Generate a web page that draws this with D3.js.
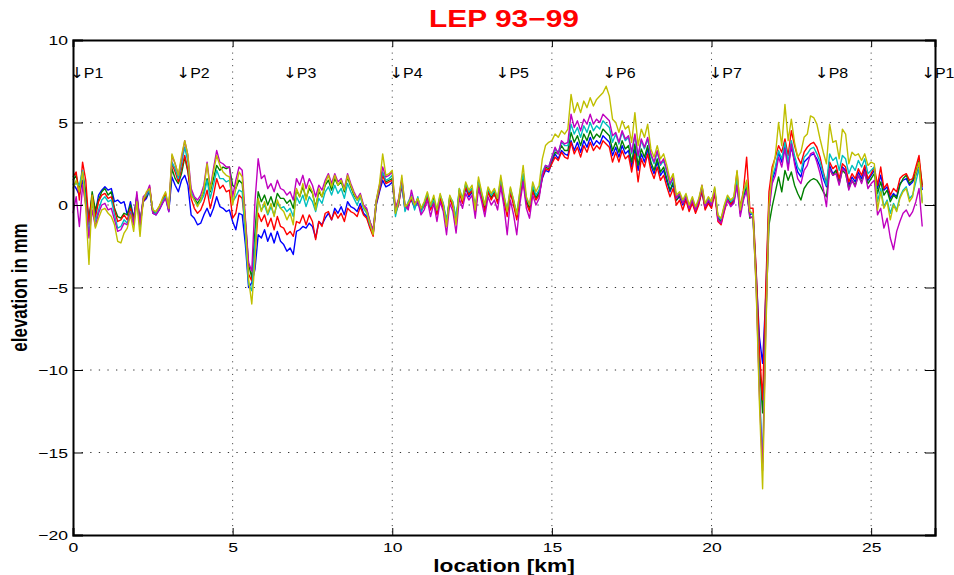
<!DOCTYPE html>
<html><head><meta charset="utf-8">
<script src="https://cdn.jsdelivr.net/npm/d3@7"></script>
<style>body{margin:0;background:#fff}svg{display:block}text{font-family:"Liberation Sans",Arial,Helvetica,sans-serif}</style>
</head><body><svg id="chart" width="954" height="575"></svg>
<script>
// sample grid: one reading every 0.1 km from 0 to 26.6 km
const sampleStart = 0, sampleStep = 0.1, sampleCount = 267;
const locationKm = d3.range(sampleCount).map(i => +(sampleStart + i * sampleStep).toFixed(1));

const elevBlue = [
1.3,1.0,0.6,1.5,0.4,-0.8,0.5,-0.5,0.6,0.9,
1.1,0.9,1.0,0.2,0.3,0.1,0.2,-0.6,0.2,-0.8,
0.5,-1.0,0.2,0.4,0.9,-0.5,-0.6,-0.3,0.1,0.5,
-0.4,1.7,1.2,0.8,1.5,1.8,1.2,-0.6,-0.8,-1.2,
-1.1,-0.6,-0.2,-0.7,-0.2,0.5,-0.1,-0.2,-0.4,-0.3,
-1.0,-1.5,-0.5,-0.6,-2.4,-5.0,-4.7,-3.9,-1.8,-2.0,
-1.5,-2.2,-1.7,-2.3,-1.6,-2.2,-2.4,-2.8,-2.6,-3.0,
-1.6,-1.5,-1.3,-1.4,-1.1,-1.3,-2.0,-1.0,-1.2,-0.8,
-0.5,-0.9,-0.2,-0.5,-0.1,-0.6,0.2,-0.1,-0.2,-0.4,
0.1,-0.5,-0.7,-1.3,-1.8,0.0,0.8,1.5,1.1,1.2,
1.4,-0.4,
0.1,1.2,-0.3,0.1,0.3,-0.2,0.2,-0.4,
0.1,0.4,-0.1,0.2,-0.4,0.5,0.0,-1.0,0.3,0.1,
-0.9,0.7,0.3,1.0,0.5,0.8,-0.3,1.2,0.6,-0.1,
0.7,0.5,0.6,0.3,1.3,0.4,-0.4,0.7,0.2,-0.6,
0.5,1.6,0.3,-0.2,0.9,0.5,0.6,1.6,2.1,2.0,
2.6,3.1,2.8,3.3,3.1,3.0,3.9,3.3,3.8,3.2,
3.9,3.5,4.1,3.6,3.9,3.7,4.2,4.0,3.8,3.0,
3.5,2.9,3.6,3.1,3.3,2.3,3.4,2.1,3.1,2.6,
3.4,2.4,1.9,2.6,1.8,2.1,1.4,0.8,1.3,0.3,
0.5,0.0,0.4,-0.3,0.2,-0.4,0.1,0.8,-0.2,0.2,
-0.1,0.8,-0.7,-0.9,-0.1,0.3,0.0,0.2,1.3,-0.5,
0.5,1.0,-0.6,-0.5,-4.2,-8.0,-9.6,-5.5,0.2,1.5,
2.1,3.2,2.6,3.6,2.4,3.5,2.7,2.0,1.7,2.6,
2.8,3.0,3.1,2.8,2.3,1.6,1.1,2.4,1.9,2.1,
1.4,2.3,2.1,1.2,1.7,1.4,2.0,1.6,2.2,1.5,
1.8,2.1,1.0,1.8,0.9,1.1,0.4,0.7,0.5,1.3,
1.5,1.6,1.2,1.4,1.8,2.5,0.9];

const elevGreen = [
1.5,1.8,0.9,2.0,0.8,-1.0,0.8,-0.3,0.3,0.8,
1.0,0.6,0.8,-0.2,-0.7,-0.8,-0.5,-0.6,0.0,-0.9,
0.6,-1.1,0.3,0.5,1.0,-0.4,-0.5,-0.2,0.2,0.6,
-0.3,2.2,1.6,1.3,1.9,2.9,2.0,0.6,0.4,0.1,
0.4,0.8,1.6,0.8,1.6,2.4,2.1,2.3,2.2,2.3,
1.2,1.0,1.5,1.3,-1.0,-3.6,-4.4,-1.6,0.8,0.2,
0.6,0.0,0.5,-0.1,0.7,0.4,0.4,0.1,0.3,-0.2,
0.9,0.5,1.1,0.4,1.0,0.7,-0.1,0.8,0.5,1.2,
1.5,0.9,1.6,1.2,1.4,0.8,1.7,1.1,0.6,0.3,
0.6,-0.1,-0.3,-1.0,-1.6,0.2,1.0,1.9,1.4,1.5,
1.6,-0.3,
0.3,1.5,-0.1,0.0,0.5,0.0,0.4,-0.2,
0.0,0.6,-0.2,0.4,-0.5,0.3,-0.1,-1.1,0.5,0.0,
-1.0,0.9,0.2,1.2,0.7,1.0,-0.4,1.4,0.5,-0.2,
0.9,0.4,0.8,0.2,1.5,0.3,-0.5,0.9,0.1,-0.7,
0.6,1.7,0.2,-0.2,1.0,0.4,0.8,1.8,2.3,2.2,
2.8,3.2,3.1,3.6,3.3,3.3,4.4,3.8,4.2,3.6,
4.3,3.9,4.5,4.0,4.3,4.1,4.6,4.4,4.2,3.3,
3.8,3.2,3.9,3.4,3.6,2.6,3.7,2.4,3.4,2.9,
3.6,2.6,2.1,2.8,2.0,2.3,1.6,0.9,1.4,0.3,
0.6,0.1,0.5,-0.2,0.3,-0.3,0.2,1.0,-0.1,0.3,
0.0,0.9,-0.8,-1.0,-0.2,0.4,0.1,0.3,1.4,-0.4,
0.6,1.1,-0.8,-0.7,-4.6,-9.5,-12.6,-6.8,-1.2,-0.1,
0.8,1.7,0.8,2.1,1.5,2.0,1.2,0.7,0.3,1.0,
1.3,1.5,1.6,1.5,1.2,0.8,0.5,2.2,1.8,2.1,
1.3,2.1,1.9,1.0,1.5,1.2,1.8,1.4,2.0,1.3,
1.6,1.9,0.7,1.4,0.6,0.9,0.2,0.6,0.4,1.2,
1.6,1.8,1.3,1.5,2.0,2.7,1.2];

const elevRed = [
1.7,2.0,0.3,2.6,1.5,-1.2,0.6,-0.8,0.2,0.6,
0.7,0.4,0.5,-0.3,-1.0,-0.9,-0.6,-0.9,-0.2,-1.0,
0.4,-1.3,0.2,0.6,1.1,-0.4,-0.4,-0.1,0.3,0.7,
-0.2,2.5,2.0,1.4,2.2,3.0,2.1,0.4,-0.2,-0.5,
-0.3,0.2,0.9,-0.2,0.6,1.6,1.0,1.2,0.8,0.9,
-0.8,-0.5,0.6,0.4,-1.5,-4.2,-4.6,-2.8,-0.5,-1.0,
-0.6,-1.3,-0.8,-1.5,-0.7,-1.3,-1.4,-1.8,-1.6,-1.9,
-1.0,-1.1,-0.6,-1.2,-0.6,-1.0,-2.1,-1.0,-1.3,-0.5,
-0.4,-0.9,-0.4,-0.8,-0.5,-1.0,-0.2,-0.4,-0.5,-0.7,
-0.1,-0.6,-0.8,-1.4,-1.9,0.1,0.9,1.8,1.3,1.4,
1.5,-0.5,
0.0,1.3,-0.2,-0.1,0.4,-0.1,0.3,-0.3,
-0.1,0.5,-0.3,0.2,-0.6,0.4,-0.2,-1.2,0.4,-0.1,
-1.1,0.8,0.1,1.1,0.6,0.9,-0.5,1.3,0.4,-0.4,
0.8,0.3,0.7,0.1,1.4,0.2,-0.7,0.8,0.0,-0.9,
0.4,1.5,0.1,-0.4,0.8,0.3,0.6,1.7,2.2,2.1,
2.5,2.9,2.7,3.2,2.9,2.8,3.8,3.1,3.5,2.9,
3.6,3.2,3.8,3.3,3.6,3.4,3.9,3.7,3.5,2.6,
3.2,2.6,3.3,2.8,3.0,2.0,3.1,1.4,2.8,2.3,
3.1,2.1,1.6,2.3,1.5,1.8,1.1,0.5,1.0,0.0,
0.3,-0.3,0.3,-0.4,0.1,-0.5,0.0,0.9,-0.3,0.1,
-0.2,0.7,-1.0,-1.2,-0.4,0.3,0.0,0.4,2.0,-0.2,
0.9,2.9,-0.2,-0.2,-4.0,-8.8,-11.8,-5.0,0.8,2.3,
2.9,3.6,3.2,4.0,3.0,4.5,3.6,2.9,2.5,3.2,
3.5,3.7,3.8,3.5,2.9,2.0,1.3,2.6,2.2,2.4,
1.6,2.5,2.3,1.4,1.9,1.6,2.2,1.8,2.4,1.6,
1.9,2.3,1.2,2.3,1.0,1.3,0.6,1.0,0.8,1.6,
1.8,1.9,1.5,1.6,2.3,3.0,1.1];

const elevCyan = [
1.2,1.3,1.2,2.1,0.2,-1.8,0.2,-1.0,-0.3,0.3,
0.5,0.2,0.3,-0.6,-1.4,-1.3,-0.9,-1.1,-0.4,-1.2,
0.3,-1.4,0.4,0.6,0.9,-0.3,-0.5,-0.2,0.2,0.5,
-0.3,2.6,2.2,1.6,2.5,3.5,2.6,0.8,0.3,0.0,
0.2,0.6,1.5,0.4,1.2,2.1,1.6,1.6,1.4,1.5,
0.2,0.5,0.9,0.8,-1.8,-4.8,-5.2,-2.4,0.3,-0.3,
0.0,-0.6,-0.1,-0.6,0.1,-0.2,-0.1,-0.4,-0.2,-0.7,
0.5,0.1,0.6,-0.1,0.5,0.2,-0.4,0.4,0.1,0.8,
1.1,0.6,1.2,0.7,1.0,0.4,1.3,0.8,0.4,0.0,
0.5,-0.2,-0.5,-1.2,-1.7,0.2,1.1,2.0,1.5,1.6,
1.8,-0.7,
0.2,1.4,-0.4,0.2,0.6,-0.3,0.5,-0.5,
0.1,0.7,-0.1,0.3,-0.3,0.6,0.1,-1.0,0.5,0.2,
-0.8,1.0,0.4,1.3,0.8,1.0,-0.2,1.5,0.7,0.0,
1.0,0.6,0.9,0.4,1.6,0.5,-0.3,1.0,0.3,-0.5,
0.8,1.9,0.4,0.0,1.2,0.6,0.9,2.0,2.4,2.3,
2.9,3.4,3.2,3.8,3.6,3.6,4.9,4.3,4.7,4.1,
4.8,4.4,5.0,4.5,4.8,4.6,5.1,4.9,4.7,3.8,
4.3,3.7,4.4,3.9,4.1,3.1,4.2,2.9,3.9,3.4,
4.0,3.0,2.5,3.2,2.4,2.7,2.0,1.2,1.6,0.5,
0.7,0.2,0.6,-0.1,0.4,-0.2,0.3,1.1,0.0,0.4,
0.1,1.0,-0.7,-0.9,-0.1,0.5,0.2,0.4,1.6,-0.3,
0.7,1.4,-0.4,-0.6,-4.8,-11.0,-15.6,-7.0,-0.3,1.7,
2.3,3.3,2.8,3.8,2.6,3.9,3.0,2.3,2.0,2.9,
3.1,3.4,3.5,3.1,2.6,1.9,1.2,3.1,2.7,2.9,
2.1,3.0,2.8,1.9,2.4,2.1,2.7,2.3,2.8,1.9,
2.1,2.3,0.2,1.0,-0.1,0.3,-0.5,0.1,-0.3,0.5,
0.9,1.1,0.4,0.6,1.4,2.2,0.2];

const elevMagenta = [
-0.5,0.5,-1.3,1.2,0.0,-2.0,-0.3,-1.3,-0.5,0.0,
0.1,-0.3,-0.2,-0.9,-1.6,-1.5,-1.1,-1.2,-0.5,-1.2,
0.8,-1.2,0.5,0.7,1.2,-0.5,-0.6,-0.3,0.1,0.4,
-0.4,3.0,2.5,1.8,2.8,3.9,3.0,1.0,0.5,0.3,
0.6,1.2,2.6,1.0,2.2,3.3,2.6,2.5,2.3,2.3,
0.5,1.5,2.3,2.1,-0.8,-3.5,-4.0,0.2,2.8,1.6,
1.8,1.0,1.3,0.8,1.5,1.0,0.9,0.6,0.8,0.3,
1.6,1.2,1.8,1.0,1.6,1.2,0.5,1.2,0.9,1.5,
1.9,1.3,1.9,1.4,1.6,1.0,1.9,1.3,0.8,0.4,
0.7,0.0,-0.2,-1.0,-1.5,0.3,1.2,2.3,1.7,1.8,
2.0,-0.2,
0.4,1.6,0.0,-0.3,0.9,0.1,0.2,-0.6,
-0.3,0.3,-0.7,0.1,-1.0,0.2,-0.4,-1.8,0.1,-0.4,
-1.7,0.4,-0.2,0.7,0.3,0.6,-0.8,1.0,0.2,-0.7,
0.5,0.0,0.3,-0.3,1.1,-0.1,-1.8,0.3,-0.6,-1.8,
0.1,1.4,-0.2,-0.8,0.6,0.0,0.4,1.8,2.4,2.3,
2.9,3.5,3.1,3.9,3.7,3.8,5.5,4.7,5.1,4.5,
5.2,4.9,5.5,4.9,5.2,5.0,5.5,5.3,5.1,4.2,
4.4,3.8,4.5,4.0,4.2,3.2,4.3,3.0,4.0,3.5,
4.1,3.1,2.6,3.3,2.5,2.8,2.1,1.3,1.7,0.4,
0.7,0.1,0.5,-0.2,0.3,-0.3,0.2,1.2,-0.1,0.3,
0.0,0.9,-0.9,-1.1,-0.3,0.3,-0.1,0.1,1.2,-0.7,
0.3,0.9,-0.7,-0.8,-5.0,-11.5,-16.1,-7.5,-0.4,1.3,
1.8,2.9,2.3,3.4,2.1,3.7,2.5,1.6,1.3,2.1,
2.4,3.1,3.2,2.6,1.9,1.0,-0.1,2.2,1.8,1.9,
1.2,2.2,2.0,0.9,1.5,1.1,1.8,1.3,2.0,1.0,
1.3,1.5,-0.6,-0.2,-1.4,-0.8,-2.0,-2.7,-1.6,-1.0,
-0.5,-0.3,-0.7,-0.4,0.2,1.0,-1.3];

const elevYellow = [
1.0,1.5,0.8,2.0,-0.2,-3.6,0.6,-1.4,-0.8,-0.3,
-0.2,-0.5,-0.7,-1.2,-2.2,-2.3,-1.7,-1.4,-0.6,-1.6,
0.2,-1.9,0.3,0.8,1.0,-0.3,-0.4,-0.1,0.4,0.8,
-0.2,3.1,2.5,1.8,3.0,3.9,3.0,0.6,0.3,-0.1,
0.3,1.0,2.5,0.9,2.0,3.0,2.4,2.0,1.8,1.7,
0.0,1.0,2.0,1.7,-1.2,-4.5,-6.0,-3.4,0.4,-0.4,
0.2,-0.5,0.1,-0.7,0.3,-0.2,-0.4,-0.9,-0.5,-1.2,
1.0,0.5,1.3,0.3,1.2,0.8,-0.3,1.0,0.5,1.3,
1.8,1.1,1.8,1.2,1.5,0.9,1.8,1.2,0.7,0.3,
0.6,-0.1,-0.4,-1.1,-1.8,0.3,1.3,3.1,1.8,1.9,
2.1,-0.5,
0.3,1.8,-0.1,0.1,0.5,0.0,0.4,-0.2,
0.2,0.8,0.0,0.6,-0.3,0.7,0.0,-1.3,0.6,0.1,
-1.2,1.0,0.3,1.4,0.9,1.2,-0.3,1.7,0.8,0.0,
1.1,0.7,1.0,0.4,1.8,0.6,-0.4,1.1,0.3,-0.6,
0.9,2.4,0.5,0.0,1.4,0.8,1.2,2.8,3.6,3.8,
3.9,4.3,4.1,4.5,4.3,4.6,6.7,5.6,6.2,5.6,
6.3,5.9,6.5,6.0,6.4,6.6,6.8,7.2,6.6,5.2,
5.0,4.4,5.1,4.6,4.8,3.8,5.6,3.6,4.6,4.1,
4.9,3.4,2.9,3.6,2.8,3.1,2.4,1.5,1.9,0.6,
0.8,0.3,0.7,0.0,0.5,-0.1,0.4,1.2,0.1,0.5,
0.2,1.1,-0.6,-0.8,0.0,0.6,0.3,0.5,2.1,-0.3,
0.8,1.5,-0.4,-0.5,-5.2,-12.0,-17.2,-8.0,0.0,2.0,
3.0,5.0,3.6,6.1,3.9,5.2,3.8,2.9,3.2,4.1,
4.3,5.4,5.3,4.9,4.0,3.2,2.5,4.9,3.8,3.9,
2.8,4.6,4.3,2.5,3.2,3.0,3.1,2.7,3.1,2.4,
2.6,2.5,-0.3,0.8,-0.2,0.2,-0.9,0.0,-0.4,0.4,
0.8,1.0,0.2,0.5,1.9,2.6,0.1];

const seriesColors = ["#0000ff","#008000","#ff0000","#00bfbf","#bf00bf","#bfbf00"];
const seriesValues = [elevBlue, elevGreen, elevRed, elevCyan, elevMagenta, elevYellow];

const xTicks = [0,5,10,15,20,25];
const yTicks = [-20,-15,-10,-5,0,5,10];
const pitLabels = ["P1","P2","P3","P4","P5","P6","P7","P8","P1"];
const pitKm = [0,3.33,6.67,10,13.33,16.67,20,23.33,26.66];
const pitLabelLevel = 8;
const titleText = "LEP 93\u221299";
const xLabelText = "location [km]";
const yLabelText = "elevation in mm";

const svg = d3.select("#chart");
const L = 73, R = 935, T = 40, B = 535;
const x = d3.scaleLinear().domain([0, 27]).range([L, R]);
const y = d3.scaleLinear().domain([-20, 10]).range([B, T]);
const SX = 1.35; // horizontal glyph stretch of the original figure

// grid
svg.append("g").selectAll("line").data(xTicks.filter(t => t > 0)).join("line")
  .attr("x1", d => x(d)).attr("x2", d => x(d)).attr("y1", T).attr("y2", B)
  .attr("stroke", "#333").attr("stroke-width", 1).attr("stroke-dasharray", "1,5.3");
svg.append("g").selectAll("line").data(yTicks.filter(t => t > -20 && t < 10)).join("line")
  .attr("y1", d => y(d)).attr("y2", d => y(d)).attr("x1", L).attr("x2", R)
  .attr("stroke", "#333").attr("stroke-width", 1).attr("stroke-dasharray", "1.3,7.3");

// series
const line = d3.line().x((d, i) => x(locationKm[i])).y(d => y(d));
svg.append("g").selectAll("path").data(seriesValues).join("path")
  .attr("d", d => line(d)).attr("fill", "none")
  .attr("stroke", (d, i) => seriesColors[i]).attr("stroke-width", 1.4)
  .attr("stroke-linejoin", "round");

// axes (MATLAB style: inward ticks on all sides)
const fmt = d3.format("");
const ax = svg.append("g").attr("transform", `translate(0,${B})`)
  .call(d3.axisBottom(x).tickValues(xTicks).tickSize(-7).tickPadding(0).tickFormat(fmt));
ax.selectAll("text").attr("y", 0).attr("dy", 0)
  .attr("transform", `translate(0,17) scale(${SX},1)`);
const axT = svg.append("g").attr("transform", `translate(0,${T})`)
  .call(d3.axisTop(x).tickValues(xTicks).tickSize(-7).tickFormat(""));
const ay = svg.append("g").attr("transform", `translate(${L},0)`)
  .call(d3.axisLeft(y).tickValues(yTicks).tickSize(-10).tickPadding(0).tickFormat(fmt));
ay.selectAll("text").attr("x", 0).attr("dy", "0.35em")
  .attr("transform", `translate(-5,0) scale(${SX},1)`);
const ayR = svg.append("g").attr("transform", `translate(${R},0)`)
  .call(d3.axisRight(y).tickValues(yTicks).tickSize(-10).tickFormat(""));
[ax, axT, ay, ayR].forEach(g => {
  g.select(".domain").attr("stroke", "#000").attr("stroke-width", 2);
  g.selectAll(".tick line").attr("stroke", "#000").attr("stroke-width", 1);
  g.selectAll("text").attr("font-size", 13).attr("fill", "#000")
    .style("font-family", '"Liberation Sans", Arial, sans-serif');
});

// pit labels: arrow drawn with DejaVu Sans (has the glyph), name with Liberation Sans
const pit = svg.append("g").selectAll("text").data(pitLabels).join("text")
  .attr("transform", (d, i) => `translate(${x(pitKm[i]) - 3},${y(pitLabelLevel)}) scale(1.1,1)`)
  .attr("dy", "0.36em").attr("font-size", 14.5).attr("fill", "#000");
pit.append("tspan").style("font-family", '"DejaVu Sans", sans-serif')
  .attr("font-size", 15).text("\u2193");
pit.append("tspan").text(d => d);

// title and axis labels
svg.append("text").attr("transform", `translate(${(L + R) / 2},27) scale(1.3,1)`)
  .attr("text-anchor", "middle").attr("font-size", 23).attr("font-weight", "bold")
  .attr("fill", "#ff0000").text(titleText);
svg.append("text").attr("transform", `translate(${(L + R) / 2},572) scale(1.3,1)`)
  .attr("text-anchor", "middle").attr("font-size", 17.5).attr("font-weight", "bold")
  .attr("fill", "#000").text(xLabelText);
svg.append("text").attr("transform", `translate(27,${(T + B) / 2}) scale(1.3,1) rotate(-90)`)
  .attr("text-anchor", "middle").attr("font-size", 17).attr("font-weight", "bold")
  .attr("fill", "#000").text(yLabelText);
</script></body></html>
